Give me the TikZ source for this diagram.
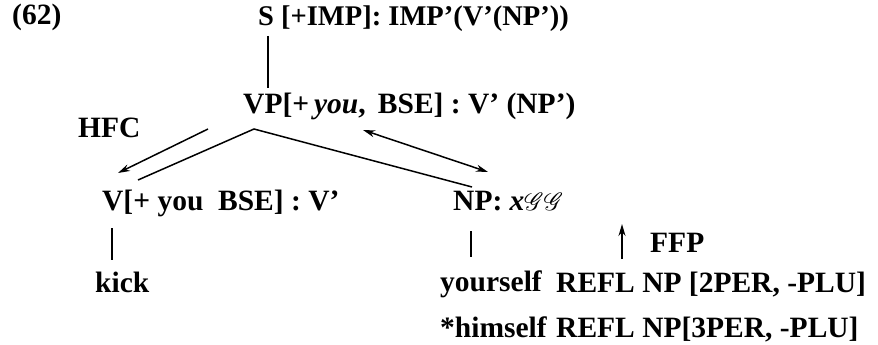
\documentclass[tikz,border=0pt]{standalone}
\usepackage{fontspec}
\usepackage{mathrsfs}
\setmainfont{Liberation Serif}
\usetikzlibrary{arrows.meta}
\tikzset{
  txt/.style={font=\fontsize{29.5}{34}\selectfont\bfseries, inner sep=0pt, anchor=base west},
  ln/.style={line width=1.5pt},
  arr/.style={line width=1.5pt, -{Stealth[length=12pt,width=7pt]}},
  darr/.style={line width=1.5pt, {Stealth[length=12pt,width=7pt]}-{Stealth[length=12pt,width=7pt]}}
}
\begin{document}
\begin{tikzpicture}[x=1pt,y=-1pt]
\useasboundingbox (0,0) rectangle (878,345);
% texts
\node[txt] (num) at (12,25) {(62)};
\node[txt, font=\fontsize{28.5}{34}\selectfont\bfseries] (s) at (258,26) {S [+IMP]: IMP'(V'(NP'))};
\node[txt] (vp) at (243,113) {VP[+\,\textit{you}, \,BSE] : V' (NP')};
\node[txt] (hfc) at (78,137) {HFC};
\node[txt] (v) at (102,210) {V[+ you \ BSE] : V'};
\node[txt] (np) at (453,210) {NP: \textit{x}$\mathscr{G}\mathscr{G}$};
\node[txt] (ffp) at (650,252) {FFP};
\node[txt] (kick) at (95,292) {kick};
\node[txt] (your) at (440,291) {yourself};
\node[txt] (refla) at (556,292) {REFL NP [2PER, -PLU]};
\node[txt] (him) at (440,337) {*himself};
\node[txt] (reflb) at (556,337) {REFL NP[3PER, -PLU]};
% connector end points
\coordinate (s1) at (268,36);
\coordinate (vp1) at (268,88);
\coordinate (apex) at (254,129);
\coordinate (vtop) at (138,180);
\coordinate (nptop) at (472,187);
\coordinate (hfca) at (208,129);
\coordinate (hfcb) at (118,173);
\coordinate (da) at (363,130);
\coordinate (db) at (488,172);
\coordinate (vb) at (112,228);
\coordinate (kt) at (112,260);
\coordinate (npb) at (471,231);
\coordinate (yt) at (471,257);
\coordinate (fa) at (622,259);
\coordinate (fb) at (622,224);
% connectors
\draw[ln] (s1) -- (vp1);
\draw[ln] (vtop) -- (apex) -- (nptop);
\draw[arr] (hfca) -- (hfcb);
\draw[darr] (da) -- (db);
\draw[ln] (vb) -- (kt);
\draw[ln] (npb) -- (yt);
\draw[arr] (fa) -- (fb);
\end{tikzpicture}
\end{document}
